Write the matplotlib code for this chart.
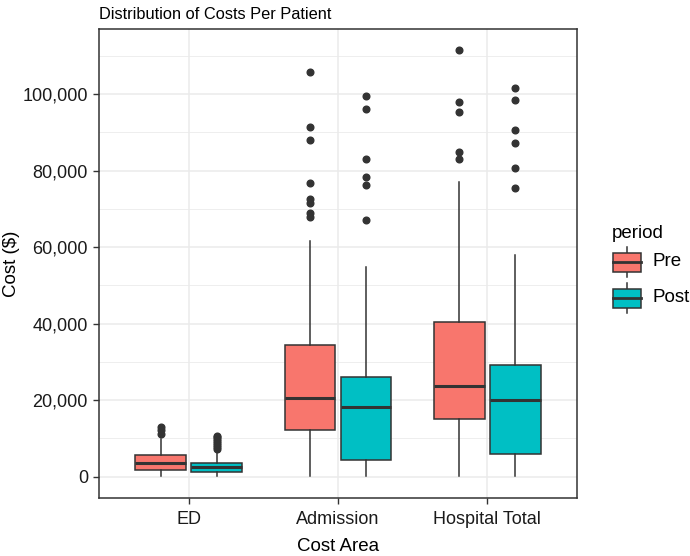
import numpy as np
import matplotlib
matplotlib.use("Agg")
import matplotlib.pyplot as plt
from matplotlib.patches import Rectangle
from matplotlib.ticker import FuncFormatter, MultipleLocator

plt.rcParams['font.family'] = ['Liberation Sans', 'DejaVu Sans']

# data (box stats per area / period)
areas = ["ED", "Admission", "Hospital Total"]
periods = ["Pre", "Post"]
colors = {"Pre": "#F8766D", "Post": "#00BFC4"}

pre_q1 = [1800, 12300, 15200]
pre_med = [3500, 20650, 23800]
pre_q3 = [5700, 34400, 40300]
pre_lo = [200, 200, 200]
pre_hi = [9800, 61700, 76900]
pre_fliers = [
    [11200, 12100, 13100],
    [67800, 68900, 71400, 72500, 76700, 87900, 91400, 105800],
    [83000, 84900, 95400, 97900, 111400],
]

post_q1 = [1100, 4400, 6000]
post_med = [2500, 18200, 20100]
post_q3 = [3700, 26000, 29100]
post_lo = [200, 200, 200]
post_hi = [6800, 54800, 58000]
post_fliers = [
    [7300, 7800, 8300, 8800, 9300, 9800, 10300, 10700],
    [67100, 76300, 78400, 83100, 96200, 99600],
    [75400, 80700, 87100, 90600, 98400, 101500],
]

yticks = [0, 20000, 40000, 60000, 80000, 100000]

fig = plt.figure(figsize=(6.9, 5.56), dpi=100)
ax = fig.add_axes([99 / 690, 58 / 556, 478 / 690, 469 / 556])

x = np.arange(1, len(areas) + 1)
offset = 0.1875
bw = 0.3375

def make_stats(q1, med, q3, lo, hi, fl):
    return [dict(q1=a, med=b, q3=c, whislo=d, whishi=e, fliers=f)
            for a, b, c, d, e, f in zip(q1, med, q3, lo, hi, fl)]

groups = {
    "Pre": make_stats(pre_q1, pre_med, pre_q3, pre_lo, pre_hi, pre_fliers),
    "Post": make_stats(post_q1, post_med, post_q3, post_lo, post_hi, post_fliers),
}

for i, p in enumerate(periods):
    pos = x + (-offset if p == "Pre" else offset)
    ax.bxp(groups[p], positions=pos, widths=bw, patch_artist=True,
           showcaps=False, manage_ticks=False,
           boxprops=dict(facecolor=colors[p], edgecolor="#333333", linewidth=1.1),
           medianprops=dict(color="#333333", linewidth=2.2),
           whiskerprops=dict(color="#333333", linewidth=1.1),
           flierprops=dict(marker="o", markerfacecolor="#333333",
                           markeredgecolor="#333333", markersize=4.8),
           zorder=3)

ax.set_xlim(0.4, 3.6)
ax.set_ylim(-5570, 117000)
ax.set_xticks(x)
ax.set_xticklabels(areas)
ax.set_yticks(yticks)
ax.yaxis.set_major_formatter(FuncFormatter(lambda v, _: f"{int(v):,}"))
ax.yaxis.set_minor_locator(MultipleLocator(10000))

ax.grid(True, which="major", color="#EBEBEB", linewidth=1.1, zorder=0)
ax.grid(True, which="minor", axis="y", color="#EBEBEB", linewidth=0.6, zorder=0)
ax.set_axisbelow(True)
for s in ax.spines.values():
    s.set_color("#333333")
    s.set_linewidth(1.1)
ax.tick_params(which="major", length=4.5, width=1.0, color="#333333",
               labelsize=13, labelcolor="#1a1a1a", pad=3.5)
ax.tick_params(axis="x", which="major", pad=5)
ax.tick_params(which="minor", length=0)

ax.set_xlabel("Cost Area", fontsize=13.5, color="black", labelpad=7)
ax.set_ylabel("Cost ($)", fontsize=13.5, color="black")
ax.yaxis.set_label_coords(-0.165, 0.5)
ax.set_title("Distribution of Costs Per Patient", loc="left", fontsize=11.8,
             pad=7, x=0.0)

# legend drawn in its own pixel-based axes
lax = fig.add_axes([0, 0, 1, 1], facecolor="none")
lax.set_xlim(0, 690)
lax.set_ylim(556, 0)
lax.axis("off")
lax.text(612, 233, "period", fontsize=13.5, va="center", ha="left")
for j, p in enumerate(periods):
    cy = 262 + j * 36
    lax.plot([627, 627], [cy - 15, cy + 15], color="#333333", linewidth=1.1)
    lax.add_patch(Rectangle((613, cy - 9.5), 28, 19, facecolor=colors[p],
                            edgecolor="#333333", linewidth=1.1, zorder=3))
    lax.plot([613, 641], [cy, cy], color="#333333", linewidth=2.0, zorder=4)
    lax.text(652, cy, p, fontsize=13.5, va="center", ha="left")

fig.savefig("out.png", dpi=100)
